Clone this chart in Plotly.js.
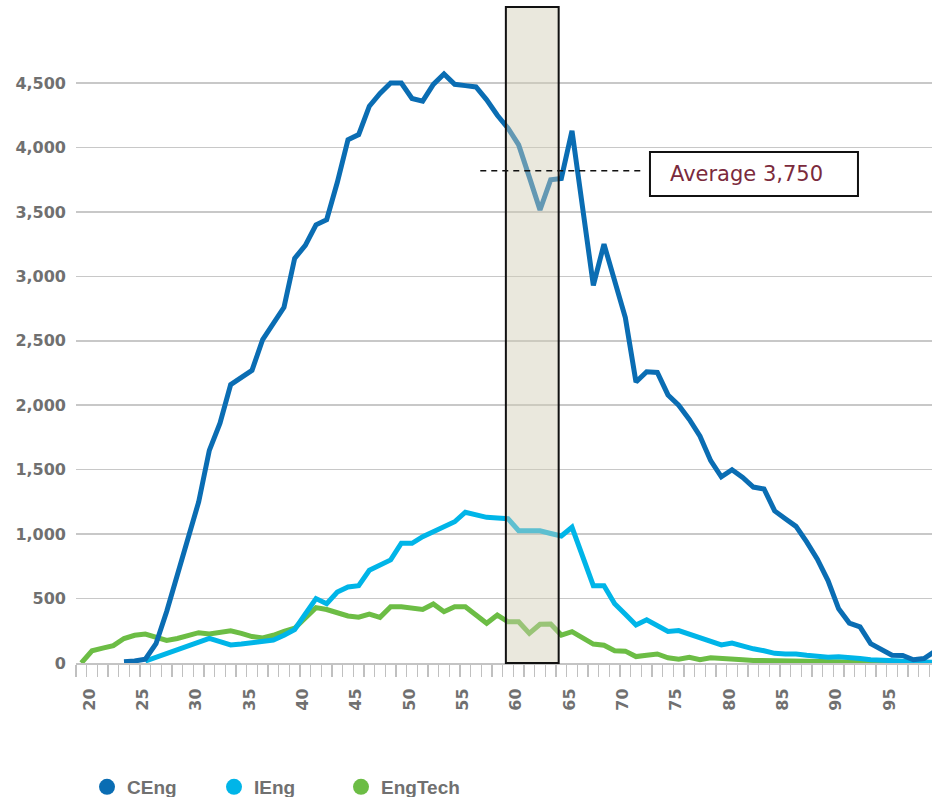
<!DOCTYPE html>
<html><head><meta charset="utf-8">
<script src="https://cdn.plot.ly/plotly-3.0.1.min.js"></script>
<style>html,body{margin:0;padding:0;overflow:hidden;background:#fff}#chart{width:940px;height:797px}</style>
</head><body><div id="chart"></div><script>
// Ages 20..100
const ages = [20,21,22,23,24,25,26,27,28,29,30,31,32,33,34,35,36,37,38,39,40,41,42,43,44,45,46,47,48,49,50,51,52,53,54,55,56,57,58,59,60,61,62,63,64,65,66,67,68,69,70,71,72,73,74,75,76,77,78,79,80,81,82,83,84,85,86,87,88,89,90,91,92,93,94,95,96,97,98,99,100];

const ceng = [null,null,null,null,10,15,30,150,400,680,950,1250,1650,1860,2160,2220,2270,2510,2640,2760,3140,3240,3400,3440,3730,4060,4100,4320,4420,4500,4500,4380,4360,4490,4570,4490,4480,4470,4370,4250,4150,4020,3770,3515,3750,3760,4130,3530,2930,3250,2950,2680,2180,2260,2255,2080,2000,1890,1760,1570,1445,1500,1440,1365,1350,1180,1120,1060,940,805,640,420,310,280,150,100,60,58,25,35,90];

const ieng = [null,null,null,null,null,null,15,45,80,110,140,165,191,165,140,148,158,167,178,215,260,380,500,460,550,590,600,720,760,800,929,929,980,1019,1060,1096,1170,1150,1130,1125,1120,1026,1026,1026,1005,985,1053,830,600,600,460,378,295,335,290,245,252,222,192,162,140,155,130,110,95,75,70,70,60,52,45,48,45,35,25,20,15,12,10,8,6];

const engtech = [0,95,115,135,190,215,225,195,175,190,215,235,225,240,250,230,205,195,215,245,270,350,430,415,385,365,355,380,354,437,437,430,416,458,398,437,437,372,308,372,320,320,230,300,302,217,243,195,147,138,95,92,50,60,70,40,30,45,25,40,38,30,25,20,18,15,12,10,10,8,8,6,5,5,4,3,3,2,2,1,1];

const seriesNames = ['CEng','IEng','EngTech'];
const colors = {CEng:'#0a6db3', IEng:'#00b5e8', EngTech:'#6cbd45'};

const xTickVals = [20,25,30,35,40,45,50,55,60,65,70,75,80,85,90,95,100];
const xTickText = ['20','25','30','35','40','45','50','55','60','65','70','75','80','85','90','95','100'];
const yTickVals = [0,500,1000,1500,2000,2500,3000,3500,4000,4500];

const avgLabel = 'Average 3,750';

const tickFontX = {family:'"DejaVu Sans", Verdana, sans-serif', size:16, color:'#707070', weight:'bold'};
const tickFontY = {family:'"DejaVu Sans", Verdana, sans-serif', size:16, color:'#707070', weight:'bold'};

const traces = [
  {x:ages, y:engtech, mode:'lines', line:{color:colors.EngTech, width:5}, showlegend:false, hoverinfo:'skip'},
  {x:ages, y:ieng, mode:'lines', line:{color:colors.IEng, width:5}, showlegend:false, hoverinfo:'skip'},
  {x:ages, y:ceng, mode:'lines', line:{color:colors.CEng, width:5}, showlegend:false, hoverinfo:'skip'}
];
seriesNames.forEach(n => traces.push({x:[null], y:[null], mode:'markers', name:n, marker:{color:colors[n], size:16}, showlegend:true}));

const layout = {
  width:940, height:797,
  margin:{l:76, r:0, t:7, b:134},
  paper_bgcolor:'#fff', plot_bgcolor:'#fff',
  separators:'.,',
  xaxis:{
    range:[19.5,100.5], tickmode:'array', tickvals:xTickVals, ticktext:xTickText,
    tickangle:-90, ticks:'', showgrid:false, zeroline:false,
    showline:true, linecolor:'#c4c4c4', linewidth:2,
    tickfont:tickFontX, ticklabelstandoff:17, ticklabelshift:8, ticklabeloverflow:'allow',
    minor:{ticks:'outside', tickmode:'linear', tick0:19.5, dtick:1, ticklen:12, tickcolor:'#c0c0c0', tickwidth:1.5, showgrid:false}
  },
  yaxis:{
    range:[0,5090], tickmode:'array', tickvals:yTickVals, tickformat:',d',
    ticks:'', showline:false, zeroline:false,
    gridcolor:'#c8c8c8', gridwidth:1.5,
    tickfont:tickFontY, ticklabelstandoff:9
  },
  shapes:[
    {type:'rect', xref:'x', yref:'paper', x0:59.8, x1:64.75, y0:0, y1:1,
     fillcolor:'rgba(208,203,180,0.45)', line:{color:'#111', width:2}, layer:'above'},
    {type:'line', xref:'x', yref:'y', x0:57.4, x1:72.4, y0:3820, y1:3820,
     line:{color:'#111', width:1.5, dash:'6px,5px'}, layer:'above'},
    {type:'rect', xref:'x', yref:'y', x0:73.31, x1:92.81, y0:3623, y1:3965,
     fillcolor:'#fff', line:{color:'#111', width:2}, layer:'above'}
  ],
  annotations:[
    {text:avgLabel, xref:'x', yref:'y', x:75.0, y:3794, xanchor:'left', yanchor:'middle', showarrow:false,
     font:{family:'"DejaVu Sans", Verdana, sans-serif', size:21, color:'#7b2a3c'}}
  ],
  showlegend:true,
  legend:{orientation:'h', xref:'container', yref:'container', x:87/940, y:10/797, xanchor:'left', yanchor:'middle',
    entrywidth:82, entrywidthmode:'pixels',
    font:{family:'"Liberation Sans Narrow", "Arial Narrow", sans-serif', size:19, color:'#707070', weight:'bold'}}
};

Plotly.newPlot('chart', traces, layout, {displayModeBar:false, staticPlot:true});
</script></body></html>
